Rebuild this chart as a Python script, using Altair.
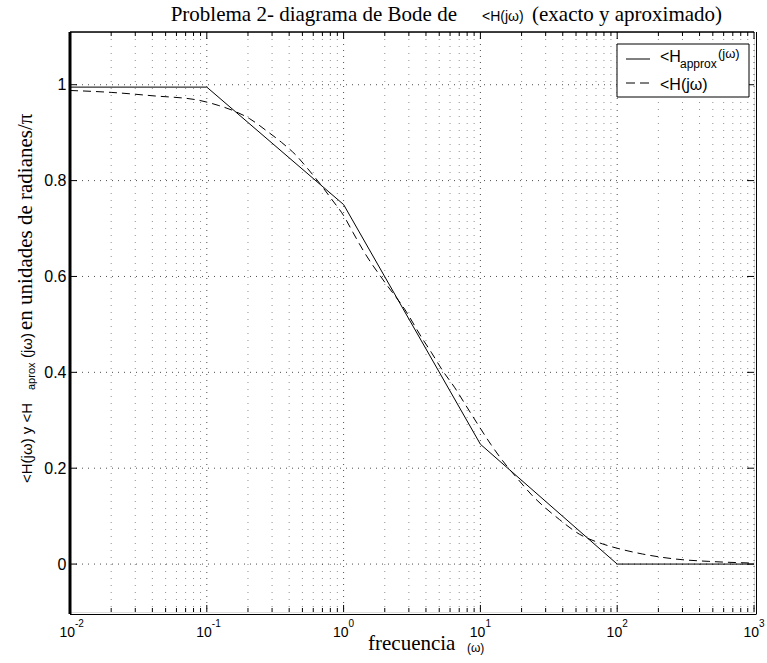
import altair as alt
import pandas as pd

# ---------------- data ----------------
freq_approx = [0.01, 0.1, 1, 10, 100, 1000]
phase_approx = [0.995, 0.995, 0.75, 0.25, 0.0, 0.0]

freq_exact = [0.01, 0.02, 0.04, 0.086, 0.121, 0.156, 0.206, 0.273, 0.351, 0.452,
              0.535, 0.687, 0.813, 1.0, 1.17, 1.42, 2.0, 2.79, 3.79, 4.37, 5.31,
              6.46, 7.87, 9.55, 11.9, 14.5, 18.7, 23.4, 37.8, 52.8, 78.2, 100,
              153, 269, 468, 1000]
phase_exact = [0.988, 0.984, 0.977, 0.968, 0.957, 0.946, 0.929, 0.904, 0.88, 0.852,
               0.828, 0.79, 0.762, 0.727, 0.692, 0.65, 0.588, 0.532, 0.469, 0.442, 0.403,
               0.369, 0.33, 0.292, 0.25, 0.216, 0.178, 0.146, 0.093, 0.0625, 0.042, 0.033,
               0.021, 0.0104, 0.0056, 0.002]

decades = [0.01, 0.1, 1, 10, 100, 1000]
exponents = ["-2", "-1", "0", "1", "2", "3"]
minor_mult = [2, 3, 4, 5, 6, 7, 8, 9]
minor_x = [d * m for d in decades[:-1] for m in minor_mult]
y_ticks = [0, 0.2, 0.4, 0.6, 0.8, 1.0]

SANS = "Liberation Sans"
SERIF = "Liberation Serif"
W, H = 684, 580

xs = alt.Scale(type="log", domain=[0.01, 1000], nice=False)
ys = alt.Scale(domain=[-0.1, 1.11], nice=False, zero=False)

df_approx = pd.DataFrame({"w": freq_approx, "p": phase_approx})
df_exact = pd.DataFrame({"w": freq_exact, "p": phase_exact})
df_major = pd.DataFrame({"w": decades, "e": exponents})
df_minor = pd.DataFrame({"w": minor_x})
df_y = pd.DataFrame({"v": y_ticks})
one = pd.DataFrame({"a": [0]})

grid_major = dict(color="#222", strokeDash=[1, 5], strokeWidth=1, opacity=0.8)
grid_minor = dict(color="#444", strokeDash=[1, 6], strokeWidth=1, opacity=0.6)

# grids
gx_major = alt.Chart(df_major).mark_rule(**grid_major).encode(
    x=alt.X("w:Q", scale=xs, axis=None), y=alt.value(0), y2=alt.value(H))
gx_minor = alt.Chart(df_minor).mark_rule(**grid_minor).encode(
    x=alt.X("w:Q", scale=xs, axis=None), y=alt.value(0), y2=alt.value(H))
gy = alt.Chart(df_y).mark_rule(**grid_major).encode(
    y=alt.Y("v:Q", scale=ys,
            axis=alt.Axis(values=y_ticks, format="~g", labelFont=SANS, labelFontSize=16,
                          labelColor="black", ticks=False, domain=False, grid=False,
                          labelPadding=4, title=None)),
    x=alt.value(0), x2=alt.value(W))

# inward ticks
tick_style = dict(color="black", strokeWidth=1)
tx_bot_major = alt.Chart(df_major).mark_rule(**tick_style).encode(
    x=alt.X("w:Q", scale=xs, axis=None), y=alt.value(H), y2=alt.value(H - 7))
tx_top_major = alt.Chart(df_major).mark_rule(**tick_style).encode(
    x=alt.X("w:Q", scale=xs, axis=None), y=alt.value(0), y2=alt.value(7))
tx_bot_minor = alt.Chart(df_minor).mark_rule(**tick_style).encode(
    x=alt.X("w:Q", scale=xs, axis=None), y=alt.value(H), y2=alt.value(H - 4))
tx_top_minor = alt.Chart(df_minor).mark_rule(**tick_style).encode(
    x=alt.X("w:Q", scale=xs, axis=None), y=alt.value(0), y2=alt.value(4))
ty_left = alt.Chart(df_y).mark_rule(**tick_style).encode(
    y=alt.Y("v:Q", scale=ys), x=alt.value(0), x2=alt.value(7))
ty_right = alt.Chart(df_y).mark_rule(**tick_style).encode(
    y=alt.Y("v:Q", scale=ys), x=alt.value(W), x2=alt.value(W - 7))

# frame extras
frame_left = alt.Chart(one).mark_rule(color="black", strokeWidth=3).encode(
    x=alt.value(0), y=alt.value(0), y2=alt.value(H + 2))
frame_top = alt.Chart(one).mark_rule(color="black", strokeWidth=1.5).encode(
    x=alt.value(0), x2=alt.value(W), y=alt.value(0))
frame_bottom = alt.Chart(one).mark_rule(color="black", strokeWidth=1).encode(
    x=alt.value(0), x2=alt.value(W + 2), y=alt.value(H + 2.5))
frame_right = alt.Chart(one).mark_rule(color="black", strokeWidth=1).encode(
    x=alt.value(W + 2.5), y=alt.value(0), y2=alt.value(H + 2.5))

# data lines
line_approx = alt.Chart(df_approx).mark_line(color="black", strokeWidth=1).encode(
    x=alt.X("w:Q", scale=xs, axis=None), y=alt.Y("p:Q", scale=ys))
line_exact = alt.Chart(df_exact).mark_line(color="black", strokeWidth=1,
                                           strokeDash=[8, 5], interpolate="monotone").encode(
    x=alt.X("w:Q", scale=xs, axis=None), y=alt.Y("p:Q", scale=ys))

# x tick labels (10 with exponent)
lab10 = alt.Chart(df_major).mark_text(text="10", font=SANS, fontSize=14, align="right",
                                      baseline="alphabetic", dx=5, color="black").encode(
    x=alt.X("w:Q", scale=xs, axis=None), y=alt.value(605))
labexp = alt.Chart(df_major).mark_text(font=SANS, fontSize=10, align="left",
                                       baseline="alphabetic", dx=5, color="black").encode(
    x=alt.X("w:Q", scale=xs, axis=None), y=alt.value(595), text="e:N")


def txt(s, x, y, font, size, align="left", angle=0):
    kw = dict(text=s, font=font, fontSize=size, align=align, baseline="alphabetic",
              color="black")
    if angle:
        kw["angle"] = angle
    return alt.Chart(one).mark_text(**kw).encode(x=alt.value(x), y=alt.value(y))


texts = [
    # title
    txt("Problema 2- diagrama de Bode de", 387, -11, SERIF, 21, align="right"),
    txt("<H(jω)", 412, -11, SANS, 14),
    txt("(exacto y aproximado)", 462, -11, SERIF, 21),
    # x title
    txt("frecuencia", 298, 618, SERIF, 21),
    txt("(ω)", 397, 620, SANS, 12),
    # y title (rotated)
    txt("<H(jω)  y <H", -38, 451, SANS, 15, angle=270),
    txt("aprox", -35, 358, SANS, 11, angle=270),
    txt("(jω)", -38, 326, SANS, 15, angle=270),
    txt("en unidades de radianes/π", -38, 298, SERIF, 21, angle=270),
]

# legend
leg_box = alt.Chart(one).mark_rect(fill="white", stroke="black", strokeWidth=1).encode(
    x=alt.value(547), x2=alt.value(679), y=alt.value(12), y2=alt.value(65))
leg_solid = alt.Chart(one).mark_rule(color="black", strokeWidth=1).encode(
    x=alt.value(556), x2=alt.value(580), y=alt.value(27))
leg_dash = alt.Chart(one).mark_rule(color="black", strokeWidth=1, strokeDash=[9, 5]).encode(
    x=alt.value(556), x2=alt.value(580), y=alt.value(51))
leg_texts = [
    txt("<H", 590, 30, SANS, 16),
    txt("approx", 610, 36, SANS, 12),
    txt("(jω)", 648, 26, SANS, 13),
    txt("<H(jω)", 590, 58, SANS, 16),
]

chart = alt.layer(
    gx_minor, gx_major, gy,
    tx_bot_major, tx_top_major, tx_bot_minor, tx_top_minor, ty_left, ty_right,
    line_exact, line_approx,
    leg_box, leg_solid, leg_dash, *leg_texts,
    frame_left, frame_top, frame_bottom, frame_right,
    lab10, labexp, *texts,
).properties(
    width=W, height=H,
    autosize=alt.AutoSizeParams(type="none"),
    padding={"left": 70, "top": 32, "right": 13, "bottom": 51},
).configure_view(
    stroke="black", strokeWidth=1
).configure(background="white")

chart.save("out.html", embed_options={"renderer": "svg", "actions": False})
